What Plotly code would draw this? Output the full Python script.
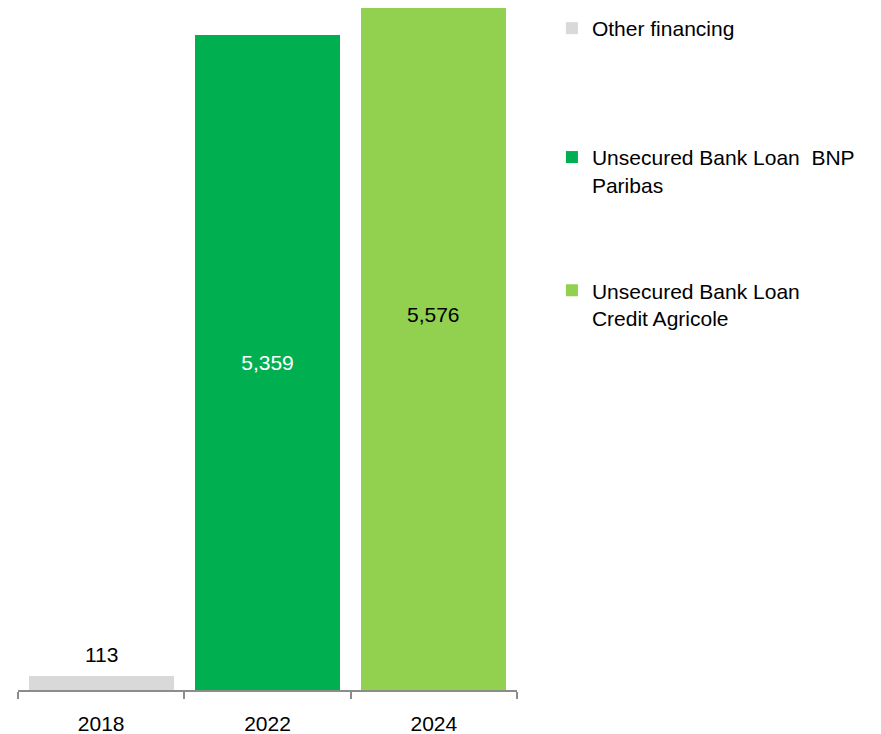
import plotly.graph_objects as go

categories = ["2018", "2022", "2024"]
series_names = ["Other financing", "Unsecured Bank Loan  BNP<br>Paribas", "Unsecured Bank Loan<br>Credit Agricole"]
values = [113, 5359, 5576]
colors = ["#D9D9D9", "#00B050", "#92D050"]
label_colors = ["#000000", "#FFFFFF", "#000000"]
value_labels = ["113", "5,359", "5,576"]

FONT = "Liberation Sans, Arial, sans-serif"

fig = go.Figure()
legend_ids = ["legend", "legend2", "legend3"]
for i in range(3):
    fig.add_trace(go.Bar(
        x=[categories[i]], y=[values[i]], name=series_names[i],
        marker=dict(color=colors[i], line=dict(width=0)),
        text=[value_labels[i]] if i == 1 else None,
        textposition="inside" if i == 1 else "none",
        insidetextanchor="middle",
        textfont=dict(color=label_colors[i], size=21, family=FONT),
        legend=legend_ids[i],
        showlegend=True,
    ))

# value label above the 2018 bar
fig.add_annotation(x=categories.index("2018"), y=values[0], text=value_labels[0],
                   showarrow=False, yanchor="middle", yshift=22,
                   font=dict(color=label_colors[0], size=21, family=FONT))
# value label of the 2024 bar, above the middle of the bar
fig.add_annotation(x=categories.index("2024"), y=values[2] / 2, text=value_labels[2],
                   showarrow=False, yanchor="middle", yshift=35,
                   font=dict(color=label_colors[2], size=21, family=FONT))

legend_common = dict(x=1.07, xanchor="left", yanchor="top", valign="top",
                     font=dict(size=21, family=FONT, color="#000000"),
                     bgcolor="rgba(0,0,0,0)", borderwidth=0)

fig.update_layout(
    width=881, height=734,
    margin=dict(l=10, r=372, t=0, b=52),
    paper_bgcolor="white", plot_bgcolor="white",
    barmode="stack", bargap=0.128,
    font=dict(family=FONT, size=21, color="#000000"),
    xaxis=dict(type="category", categoryorder="array", categoryarray=categories,
               range=[-0.5, len(categories) - 0.5],
               showline=True, linecolor="#8C8C8C", linewidth=1.5,
               ticks="outside", tickson="boundaries", ticklen=7, tickwidth=1.5,
               tickcolor="#8C8C8C", showgrid=False, zeroline=False,
               ticklabelstandoff=14,
               tickfont=dict(size=21, family=FONT, color="#000000")),
    yaxis=dict(visible=False, range=[0, values[2]], showgrid=False, zeroline=False),
    legend=dict(y=1.0, **legend_common),
    legend2=dict(y=0.811, **legend_common),
    legend3=dict(y=0.6156, **legend_common),
)

fig.write_html("out.html")
